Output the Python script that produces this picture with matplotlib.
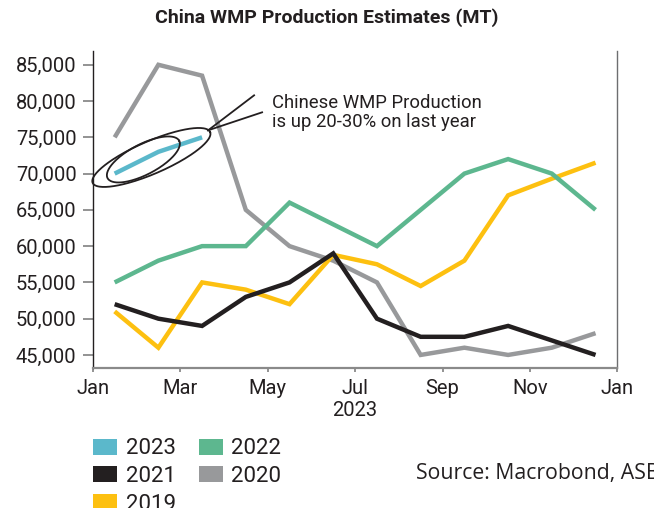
import matplotlib
matplotlib.use("Agg")
import matplotlib.pyplot as plt
import numpy as np
from matplotlib.patches import Patch

plt.rcParams["font.family"] = ["Roboto", "DejaVu Sans"]

months = ["Jan", "Feb", "Mar", "Apr", "May", "Jun", "Jul", "Aug", "Sep", "Oct", "Nov", "Dec"]
tick_labels = ["Jan", "Mar", "May", "Jul", "Sep", "Nov", "Jan"]

prod_2023 = [70000, 73000, 75000]
prod_2022 = [55000, 58000, 60000, 60000, 66000, 63000, 60000, 65000, 70000, 72000, 70000, 65000]
prod_2021 = [52000, 50000, 49000, 53000, 55000, 59000, 50000, 47500, 47500, 49000, 47000, 45000]
prod_2020 = [75000, 85000, 83500, 65000, 60000, 58000, 55000, 45000, 46000, 45000, 46000, 48000]
prod_2019 = [51000, 46000, 55000, 54000, 52000, 58800, 57500, 54500, 58000, 67000, 69300, 71500]

colors = {
    "2023": "#5bb8cb",
    "2022": "#5db78f",
    "2021": "#231f20",
    "2020": "#98999b",
    "2019": "#fdc010",
}

text_color = "#231f20"
tick_color = "#8a8a8a"

fig = plt.figure(figsize=(6.54, 5.08), dpi=100)
ax = fig.add_axes([92.8 / 654, 140 / 508, 524.6 / 654, 317 / 508])

x_mid = np.arange(12) + 0.5

series = [
    ("2020", prod_2020),
    ("2019", prod_2019),
    ("2022", prod_2022),
    ("2021", prod_2021),
    ("2023", prod_2023),
]
for name, values in series:
    ax.plot(x_mid[: len(values)], values, color=colors[name], linewidth=3.2,
            solid_joinstyle="miter", solid_capstyle="butt")

ax.set_xlim(0, 12)
ax.set_ylim(43200, 86900)

ax.set_yticks(np.arange(45000, 85001, 5000))
ax.set_yticklabels([f"{v:,}" for v in range(45000, 85001, 5000)])
ax.set_xticks(np.arange(0, 13, 2))
ax.set_xticklabels(tick_labels)

ax.tick_params(axis="y", length=7.2, width=1.3, color=tick_color, pad=4.5,
               labelsize=14.5, labelcolor=text_color)
ax.tick_params(axis="x", length=3, width=1.3, color=tick_color, pad=5,
               labelsize=14.5, labelcolor=text_color)

ax.spines["top"].set_visible(False)
ax.spines["left"].set_color(text_color)
ax.spines["left"].set_linewidth(1.0)
ax.spines["right"].set_color("#6d6e70")
ax.spines["right"].set_linewidth(1.0)
ax.spines["bottom"].set_color("#8a8a8a")
ax.spines["bottom"].set_linewidth(1.6)

ax.text(6, -0.105, "2023", transform=ax.get_xaxis_transform(), ha="center", va="top",
        fontsize=14.5, color=text_color)

# annotation around the 2023 series (ellipses in pixel units around the data)
sx = 12 / 524.6
sy = (86900 - 43200) / 317
cx = np.mean([x_mid[0], x_mid[2]])
cy = np.mean([prod_2023[0], prod_2023[2]])
phi = np.linspace(0, 2 * np.pi, 200)
for dx, dy, a, b, ang in [(-7, -2, 64, 16.3, 23.4), (-15, -4, 40.4, 15.2, 27.5)]:
    t = np.radians(ang)
    px = dx + a * np.cos(phi) * np.cos(t) - b * np.sin(phi) * np.sin(t)
    py = dy + a * np.cos(phi) * np.sin(t) + b * np.sin(phi) * np.cos(t)
    ax.plot(cx + px * sx, cy + py * sy, color=text_color, linewidth=1.3, clip_on=False)

mx, my = x_mid[2], prod_2023[2]
for ex, ey in [(52, 42), (60, 25)]:
    ax.plot([mx + 6 * sx, mx + ex * sx], [my + 7 * sy, my + ey * sy],
            color=text_color, linewidth=1.3)

fig.text(272 / 654, 1 - 126.7 / 508, "Chinese WMP Production\nis up 20-30% on last year",
         ha="left", va="baseline", fontsize=13.3, color=text_color, linespacing=1.08)

fig.text(0.5, 1 - 18 / 508, "China WMP Production Estimates (MT)", ha="center", va="center",
         fontsize=14, fontweight="bold", color=text_color)

handles = [Patch(facecolor=colors[n], edgecolor="none", label=n)
           for n in ["2023", "2021", "2019", "2022", "2020"]]
fig.legend(handles=handles, ncol=2, loc="upper left",
           bbox_to_anchor=(93.3 / 654, 1 - 438.5 / 508), frameon=False,
           borderpad=0, borderaxespad=0,
           fontsize=16, handlelength=24 / 22.2, handleheight=16 / 22.2,
           handletextpad=8.4 / 22.2, columnspacing=23 / 22.2, labelspacing=0.3,
           labelcolor=text_color)

fig.text(416 / 654, 1 - 473 / 508, "Source: Macrobond, ASB", ha="left", va="center",
         fontsize=15.3, color=text_color, family=["Open Sans", "DejaVu Sans"])

fig.savefig("out.png", dpi=100)
